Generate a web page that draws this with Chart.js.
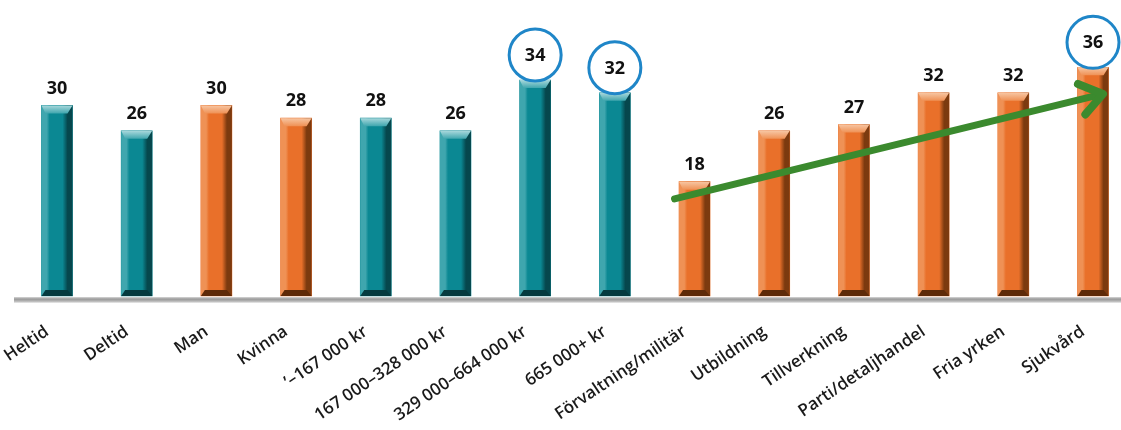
<!DOCTYPE html>
<html>
<head>
<meta charset="utf-8">
<script src="https://cdn.jsdelivr.net/npm/chart.js@4"></script>
<style>
  html, body { margin: 0; padding: 0; background: #ffffff; }
  #wrap { width: 1121px; height: 430px; }
</style>
</head>
<body>
<div id="wrap"><canvas id="c" width="1121" height="430"></canvas></div>
<script>
// ---- data ----
const categories = ['Heltid', 'Deltid', 'Man', 'Kvinna', '\u2019\u2013167 000 kr', '167 000\u2013328 000 kr',
  '329 000\u2013664 000 kr', '665 000+ kr', 'F\u00f6rvaltning/milit\u00e4r', 'Utbildning', 'Tillverkning',
  'Parti/detaljhandel', 'Fria yrken', 'Sjukv\u00e5rd'];
const values = [30, 26, 30, 28, 28, 26, 34, 32, 18, 26, 27, 32, 32, 36];
const groups = ['anst\u00e4llning', 'anst\u00e4llning', 'k\u00f6n', 'k\u00f6n', 'inkomst', 'inkomst', 'inkomst', 'inkomst',
  'sektor', 'sektor', 'sektor', 'sektor', 'sektor', 'sektor'];
const highlighted = ['329 000\u2013664 000 kr', '665 000+ kr', 'Sjukv\u00e5rd'];
const trendFrom = { category: 'F\u00f6rvaltning/milit\u00e4r', value: 15.3 };
const trendTo = { category: 'Sjukv\u00e5rd', value: 31.8 };

// ---- styles ----
const palette = {
  teal:   { base: '#0b8893', light: '#3fa6ae', dark: '#06474d', cap: '#a9d8dc', bottom: '#053a3f' },
  orange: { base: '#e9702a', light: '#ef9155', dark: '#7c3a0f', cap: '#f7c6a3', bottom: '#5e2a08' }
};
const groupColor = { 'anst\u00e4llning': 'teal', 'k\u00f6n': 'orange', 'inkomst': 'teal', 'sektor': 'orange' };
const barColors = groups.map(g => palette[groupColor[g]]);

const bevelPlugin = {
  id: 'bevel',
  beforeDatasetsDraw(chart) {
    const ctx = chart.ctx;
    const y0 = chart.scales.y.getPixelForValue(0);
    const g = ctx.createLinearGradient(0, y0 + 1, 0, y0 + 7);
    g.addColorStop(0, '#d8d8d8');
    g.addColorStop(0.35, '#9a9a9a');
    g.addColorStop(0.7, '#b5b5b5');
    g.addColorStop(1, '#eeeeee');
    ctx.save();
    ctx.fillStyle = g;
    ctx.fillRect(14, y0 + 1, chart.width - 14, 6);
    ctx.restore();
  },
  afterDatasetsDraw(chart) {
    const ctx = chart.ctx;
    const meta = chart.getDatasetMeta(0);
    ctx.save();
    meta.data.forEach((bar, i) => {
      const c = barColors[i];
      const w = bar.width, l = bar.x - w / 2, r = bar.x + w / 2, t = bar.y, b = bar.base;
      const hg = ctx.createLinearGradient(l, 0, r, 0);
      hg.addColorStop(0, c.light);
      hg.addColorStop(0.17, c.light);
      hg.addColorStop(0.26, c.base);
      hg.addColorStop(0.68, c.base);
      hg.addColorStop(0.84, c.dark);
      hg.addColorStop(1, c.dark);
      ctx.fillStyle = hg;
      ctx.fillRect(l, t, w, b - t);
      const capH = 8;
      const tg = ctx.createLinearGradient(0, t, 0, t + capH);
      tg.addColorStop(0, c.cap);
      tg.addColorStop(1, c.light);
      ctx.fillStyle = tg;
      ctx.beginPath();
      ctx.moveTo(l, t);
      ctx.lineTo(r, t);
      ctx.lineTo(r - 5, t + capH);
      ctx.lineTo(l + 4, t + capH);
      ctx.closePath();
      ctx.fill();
      const bh = 6;
      ctx.fillStyle = c.bottom;
      ctx.beginPath();
      ctx.moveTo(l, b);
      ctx.lineTo(r, b);
      ctx.lineTo(r - 5, b - bh);
      ctx.lineTo(l + 4, b - bh);
      ctx.closePath();
      ctx.fill();
    });
    ctx.restore();
  },
  afterDraw(chart) {
    const ctx = chart.ctx;
    const xs = chart.scales.x, ys = chart.scales.y;
    const meta = chart.getDatasetMeta(0);
    ctx.save();
    // trend arrow
    const x1 = xs.getPixelForValue(categories.indexOf(trendFrom.category)) - 20;
    const y1 = ys.getPixelForValue(trendFrom.value);
    const x2 = xs.getPixelForValue(categories.indexOf(trendTo.category)) + 10;
    const y2 = ys.getPixelForValue(trendTo.value);
    const ang = Math.atan2(y2 - y1, x2 - x1);
    ctx.strokeStyle = '#3b8a2e';
    ctx.lineWidth = 7;
    ctx.lineCap = 'round';
    ctx.lineJoin = 'round';
    ctx.beginPath();
    ctx.moveTo(x1, y1);
    ctx.lineTo(x2 - 3 * Math.cos(ang), y2 - 3 * Math.sin(ang));
    ctx.stroke();
    ctx.lineWidth = 8;
    const wl = 27, wa = 0.62;
    ctx.beginPath();
    ctx.moveTo(x2 - wl * Math.cos(ang - wa), y2 - wl * Math.sin(ang - wa));
    ctx.lineTo(x2, y2);
    ctx.lineTo(x2 - wl * Math.cos(ang + wa), y2 - wl * Math.sin(ang + wa));
    ctx.stroke();

    // value labels and circles
    ctx.textAlign = 'center';
    ctx.textBaseline = 'middle';
    ctx.font = 'bold 18px "Open Sans", Lato, sans-serif';
    meta.data.forEach((bar, i) => {
      const hi = highlighted.includes(categories[i]);
      const cy = bar.y - (hi ? 25 : 18);
      if (hi) {
        ctx.beginPath();
        ctx.arc(bar.x, cy, 26, 0, Math.PI * 2);
        ctx.fillStyle = '#ffffff';
        ctx.fill();
        ctx.lineWidth = 3;
        ctx.strokeStyle = '#1f86c8';
        ctx.stroke();
      }
      ctx.fillStyle = '#111111';
      ctx.fillText(String(values[i]), bar.x, cy + 1);
    });

    // category labels (rotated)
    ctx.font = '600 17px "Open Sans", Lato, sans-serif';
    ctx.fillStyle = '#1a1a1a';
    ctx.textAlign = 'right';
    ctx.textBaseline = 'middle';
    const ly = ys.getPixelForValue(0) + 34;
    categories.forEach((lab, i) => {
      const x = xs.getPixelForValue(i) - 10;
      ctx.save();
      ctx.translate(x, ly);
      ctx.rotate(-34 * Math.PI / 180);
      ctx.fillText(lab, 0, 0);
      ctx.restore();
    });
    ctx.restore();
  }
};

new Chart(document.getElementById('c'), {
  type: 'bar',
  data: {
    labels: categories,
    datasets: [{
      data: values,
      backgroundColor: barColors.map(c => c.base),
      borderWidth: 0,
      barThickness: 31,
      clip: false
    }]
  },
  options: {
    responsive: false,
    animation: false,
    devicePixelRatio: 1,
    layout: { padding: { left: 57, right: 28, top: 0, bottom: 134 } },
    plugins: { legend: { display: false }, tooltip: { enabled: false } },
    scales: {
      x: { display: false, offset: false, grid: { display: false } },
      y: { display: false, min: 0, max: 46.6, grid: { display: false } }
    }
  },
  plugins: [bevelPlugin]
});
</script>
</body>
</html>
